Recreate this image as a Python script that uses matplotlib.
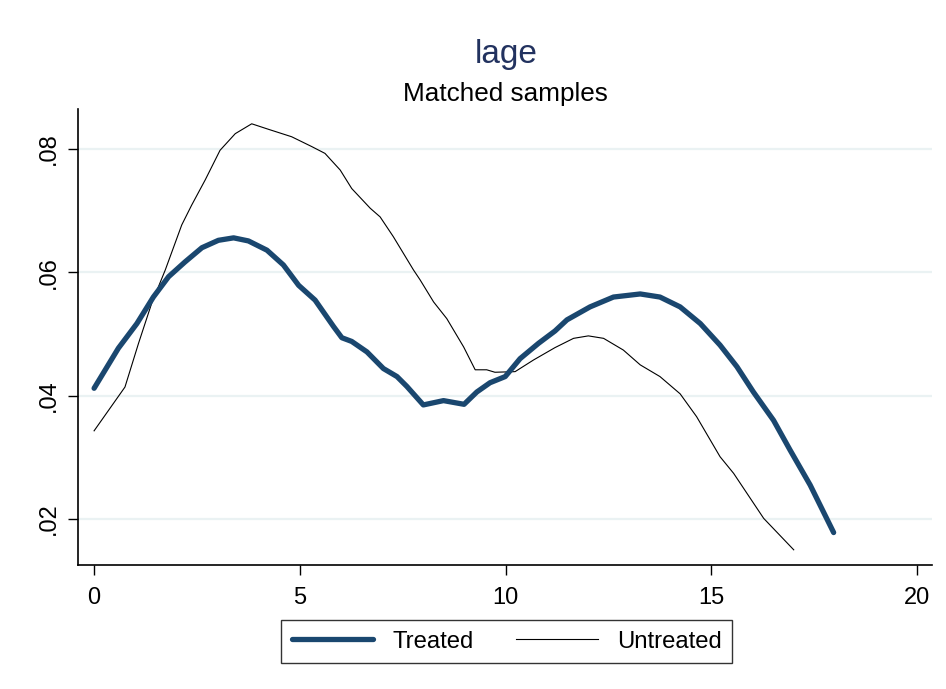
import matplotlib
matplotlib.use("Agg")
import matplotlib.pyplot as plt
from matplotlib.ticker import FixedLocator

plt.rcParams['font.family'] = ['Liberation Sans', 'DejaVu Sans']

treated_x = [0.0, 0.59, 1.04, 1.44, 1.81, 2.21, 2.62, 3.02, 3.39, 3.75, 4.20, 4.60, 4.97,
             5.37, 5.82, 6.02, 6.26, 6.63, 7.03, 7.36, 7.60, 8.00, 8.49, 8.99, 9.30, 9.62,
             9.99, 10.35, 10.80, 11.20, 11.49, 12.05, 12.62, 13.27, 13.75, 14.24, 14.73,
             15.21, 15.62, 16.02, 16.51, 16.91, 17.40, 17.97]
treated_y = [0.0412, 0.0477, 0.0517, 0.0560, 0.0593, 0.0617, 0.0640, 0.0652, 0.0656, 0.0651,
             0.0636, 0.0612, 0.0579, 0.0555, 0.0512, 0.0494, 0.0488, 0.0471, 0.0444, 0.0431,
             0.0415, 0.0385, 0.0392, 0.0386, 0.0406, 0.0421, 0.0431, 0.0460, 0.0485, 0.0505,
             0.0523, 0.0544, 0.0560, 0.0565, 0.0560, 0.0544, 0.0517, 0.0482, 0.0447, 0.0406,
             0.0360, 0.0312, 0.0255, 0.0178]

untreated_x = [0.0, 0.75, 1.08, 1.40, 1.73, 2.13, 2.37, 2.70, 3.06, 3.43, 3.83, 4.24, 4.80,
               5.29, 5.61, 5.98, 6.26, 6.71, 6.95, 7.27, 7.76, 7.92, 8.25, 8.57, 8.98, 9.26,
               9.54, 9.74, 10.23, 10.68, 11.20, 11.65, 12.01, 12.38, 12.86, 13.27, 13.75,
               14.24, 14.64, 15.21, 15.54, 16.27, 17.0]
untreated_y = [0.0343, 0.0414, 0.0485, 0.0550, 0.0604, 0.0677, 0.0709, 0.0750, 0.0798, 0.0825,
               0.0841, 0.0832, 0.0820, 0.0804, 0.0793, 0.0766, 0.0736, 0.0704, 0.0690, 0.0658,
               0.0604, 0.0588, 0.0552, 0.0525, 0.0479, 0.0442, 0.0442, 0.0438, 0.0439, 0.0458,
               0.0478, 0.0493, 0.0497, 0.0493, 0.0474, 0.0450, 0.0431, 0.0403, 0.0366, 0.0301,
               0.0274, 0.0201, 0.0150]

xticks = [0, 5, 10, 15, 20]
yticks = [0.02, 0.04, 0.06, 0.08]
ytick_labels = ['.02', '.04', '.06', '.08']

navy = '#1a476f'
title_color = '#22325f'

fig = plt.figure(figsize=(9.46, 6.89), dpi=100)
ax = fig.add_axes([0.0825, 0.18, 0.9027, 0.6618])

for yv in yticks:
    ax.axhline(yv, color='#eaf2f3', lw=1.6, zorder=0)

ax.plot(treated_x, treated_y, color=navy, lw=3.8, solid_capstyle='round',
        solid_joinstyle='round', label='Treated', zorder=3)
ax.plot(untreated_x, untreated_y, color='black', lw=0.8, label='Untreated', zorder=2)

ax.set_xlim(-0.39, 20.36)
ax.set_ylim(0.01254, 0.0865)
ax.xaxis.set_major_locator(FixedLocator(xticks))
ax.yaxis.set_major_locator(FixedLocator(yticks))
ax.set_yticklabels(ytick_labels, rotation=90, va='center')
ax.tick_params(axis='both', labelsize=17, direction='out', length=7, width=1, color='black')
ax.tick_params(axis='x', pad=9)
ax.tick_params(axis='y', pad=6)

for s in ['top', 'right']:
    ax.spines[s].set_visible(False)
for s in ['left', 'bottom']:
    ax.spines[s].set_linewidth(1.2)
    ax.spines[s].set_color('black')

fig.text(0.535, 0.921, 'lage', ha='center', va='center', fontsize=24, color=title_color)
fig.text(0.534, 0.864, 'Matched samples', ha='center', va='center', fontsize=18.8, color='black')

leg = fig.legend(loc='center', bbox_to_anchor=(0.5355, 0.0689), ncol=2, fontsize=17.2,
                 frameon=True, fancybox=False, handlelength=3.4, columnspacing=1.8,
                 borderpad=0.45, handletextpad=0.8)
leg.get_frame().set_edgecolor('black')
leg.get_frame().set_linewidth(1.0)

fig.savefig('out.png', dpi=100)
